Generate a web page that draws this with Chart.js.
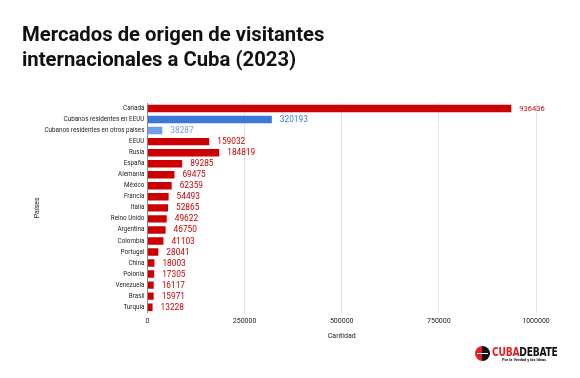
<!DOCTYPE html>
<html><head><meta charset="utf-8">
<script src="https://cdn.jsdelivr.net/npm/chart.js@4"></script>
<style>
html,body{margin:0;padding:0;background:#fff;}
#wrap{position:relative;width:580px;height:378px;overflow:hidden;font-family:Roboto,"Noto Sans",sans-serif;}
#title{position:absolute;left:22px;top:22px;font-size:20.3px;font-weight:bold;line-height:25px;color:#111;}
#c{position:absolute;left:0;top:0;}
#logo{position:absolute;left:475px;top:345px;width:80px;height:20px;}
#logo .circ{position:absolute;left:0;top:1px;width:15px;height:15px;border-radius:50%;background:linear-gradient(90deg,#e31e24 50%,#111 50%);}
#logo .circ:after{content:"";position:absolute;left:2px;top:7px;width:11px;height:1px;background:#fff;}
#logo .name{position:absolute;left:17px;top:0px;font-family:"Liberation Sans Narrow","DejaVu Sans Condensed",sans-serif;font-weight:bold;font-size:12px;letter-spacing:-0.3px;transform:scaleX(0.85);transform-origin:left top;}
#logo .tag{position:absolute;left:27px;top:12px;font-size:4px;font-weight:bold;color:#111;white-space:nowrap;}
</style></head>
<body><div id="wrap">
<canvas id="c" width="580" height="378"></canvas>
<div id="title">Mercados de origen de visitantes<br>internacionales a Cuba (2023)</div>
<div id="logo"><div class="circ"></div><div class="name"><span style="color:#e31e24">CUBA</span><span style="color:#111">DEBATE</span></div><div class="tag">Por la Verdad y las Ideas</div></div>
</div>
<script>
const categories = ["Canadá","Cubanos residentes en EEUU","Cubanos residentes en otros países","EEUU","Rusia","España","Alemania","México","Francia","Italia","Reino Unido","Argentina","Colombia","Portugal","China","Polonia","Venezuela","Brasil","Turquía"];
const visitantes = [936436,320193,38287,159032,184819,89285,69475,62359,54493,52865,49622,46750,41103,28041,18003,17305,16117,15971,13228];
const xTicks = [0,250000,500000,750000,1000000];
const barColors = categories.map((c,i)=> i===1 ? "#3c78d8" : (i===2 ? "#6d9eeb" : "#cc0000"));

const labelPlugin = {
  id:'vlabels',
  afterDatasetsDraw(chart){
    const ctx = chart.ctx;
    const meta = chart.getDatasetMeta(0);
    ctx.save();
    ctx.textBaseline = 'middle';
    ctx.textAlign = 'left';
    meta.data.forEach((bar,i)=>{
      ctx.fillStyle = barColors[i];
      ctx.font = (i===0 ? '7.5px' : '8.3px') + ' Roboto, sans-serif';
      ctx.fillText(String(visitantes[i]), bar.x + 8, bar.y + 0.5);
    });
    ctx.restore();
  }
};

new Chart(document.getElementById('c'), {
  type:'bar',
  data:{labels:categories, datasets:[{data:visitantes, backgroundColor:barColors, borderWidth:0, barPercentage:0.75, categoryPercentage:0.9}]},
  options:{
    indexAxis:'y', responsive:false, animation:false,
    layout:{padding:{left:29,right:44,top:103,bottom:33.5}},
    plugins:{legend:{display:false}, tooltip:{enabled:false}},
    scales:{
      x:{min:0,max:1000000,
         afterBuildTicks(axis){axis.ticks = xTicks.map(v=>({value:v}));},
         ticks:{color:'#222',font:{size:7,family:'Roboto'},padding:4, callback:(v)=>String(v)},
         grid:{color:'#e3e3e3',drawTicks:false},
         border:{display:false},
         title:{display:true,text:'Cantidad',color:'#222',font:{size:7,family:'Roboto'},padding:{top:3}}
      },
      y:{
         ticks:{color:'#222',font:{size:6.3,family:'Roboto'},padding:3,autoSkip:false},
         grid:{display:false,drawTicks:false},
         border:{display:true,color:'#888',width:1},
         title:{display:true,text:'Países',color:'#222',font:{size:7,family:'Roboto'},padding:{bottom:0}}
      }
    }
  },
  plugins:[labelPlugin]
});
</script>
</body></html>
